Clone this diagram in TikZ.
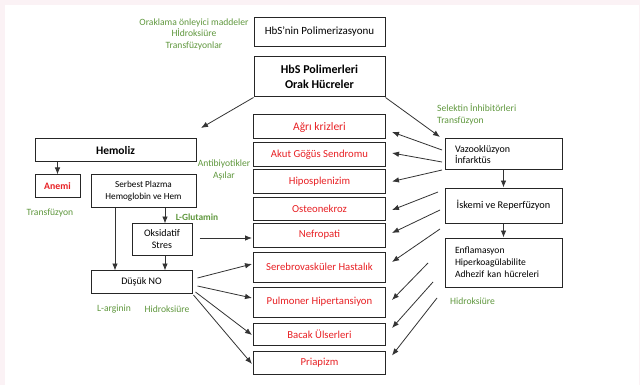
\documentclass[tikz,border=0pt]{standalone}
\usepackage{fontspec}
\setmainfont{Carlito}
\usetikzlibrary{arrows.meta}
\definecolor{sickred}{RGB}{232,32,36}
\definecolor{curegreen}{RGB}{96,152,62}
\definecolor{pinkband}{RGB}{251,242,245}

\begin{document}
\begin{tikzpicture}[x=1pt,y=-1pt,
  box/.style={draw=black!85,line width=1pt,rectangle,inner sep=0pt,align=center,font=\fontsize{10.7}{12}\selectfont},
  midbox/.style={box,minimum width=132pt,text=sickred},
  sidebox/.style={box,minimum width=117pt},
  therapy/.style={text=curegreen,inner sep=0pt,font=\fontsize{9.6}{12}\selectfont},
  arr/.style={draw=black!80,line width=0.8pt,-{Latex[length=7pt,width=5.5pt]}}]
  \useasboundingbox (0,0) rectangle (640,385);
  \fill[pinkband] (0,0) rectangle (640,385);
  \fill[white] (5,5) rectangle (639,385);
  % top of the chain
  \path (319.5,32) node[box,minimum width=131pt,minimum height=29pt,font=\fontsize{11}{12}\selectfont] (pol) {HbS’nin Polimerizasyonu}
  (319.5,77) node[box,minimum width=131pt,minimum height=40pt,font=\bfseries\fontsize{12}{15}\selectfont] (orak) {HbS Polimerleri\\Orak Hücreler};
  % middle column
  \path (319.5,127) node[midbox,minimum height=24pt,font=\fontsize{11.5}{12}\selectfont] (agri) {Ağrı krizleri}
  (319.5,155) node[midbox,minimum height=24pt] (akut) {Akut Göğüs Sendromu}
  (319.5,181.5) node[midbox,minimum height=23pt] (hipo) {Hiposplenizim}
  (319.5,208.5) node[midbox,minimum height=23pt] (osteo) {Osteonekroz}
  (319.5,235) node[midbox,minimum height=24pt] (nefro) {Nefropati}
  (319.5,267) node[midbox,minimum height=30pt] (sereb) {Serebrovasküler Hastalık}
  (319.5,302) node[midbox,minimum height=30pt] (pulm) {Pulmoner Hipertansiyon}
  (319.5,334) node[midbox,minimum height=22pt] (bacak) {Bacak Ülserleri}
  (319.5,362.5) node[midbox,minimum height=23pt] (priap) {Priapizm};
  % left side
  \path (115.5,150.5) node[box,minimum width=161pt,minimum height=23pt,font=\bfseries\fontsize{11.5}{12}\selectfont] (hemoliz) {Hemoliz}
  (57.5,186) node[box,minimum width=45pt,minimum height=22pt,text=sickred,font=\bfseries\fontsize{9.8}{11}\selectfont] (anemi) {Anemi}
  (143.5,191) node[box,minimum width=105pt,minimum height=32pt,font=\fontsize{9.2}{12}\selectfont] (plazma) {Serbest Plazma\\Hemoglobin ve Hem}
  (162,239) node[box,minimum width=60pt,minimum height=32pt,font=\fontsize{10}{12.5}\selectfont] (oksid) {Oksidatif\\Stres}
  (141.5,281.5) node[box,minimum width=101pt,minimum height=23pt,font=\fontsize{10}{12}\selectfont] (dusuk) {Düşük NO};
  % right side
  \path (503.5,154.5) node[sidebox,minimum height=31pt,text width=97pt,inner xsep=10pt,align=left,font=\fontsize{10}{11}\selectfont] (vazo) {Vazooklüzyon\\İnfarktüs}
  (503.5,205.5) node[sidebox,minimum height=35pt,font=\fontsize{10.3}{12}\selectfont] (iskemi) {İskemi ve Reperfüzyon}
  (503.5,262.5) node[sidebox,minimum height=49pt,text width=97pt,inner xsep=10pt,align=left,font=\fontsize{9.6}{12}\selectfont] (enfl) {Enflamasyon\\Hiperkoagülabilite\\Adhezif kan hücreleri};
  % treatments
  \path (194,34) node[therapy,align=center,font=\fontsize{9.6}{11.5}\selectfont] (orakcure) {Oraklama önleyici maddeler\\Hİdroksiüre\\Transfüzyonlar}
  (50,213) node[therapy] (anemicure) {Transfüzyon}
  (224,170) node[therapy,align=center] (infcure) {Antibiyotikler\\Aşılar}
  (197,217) node[therapy,font=\bfseries\fontsize{9.4}{11}\selectfont] (glut) {L-Glutamin}
  (114,309) node[therapy] (arg) {L-arginin}
  (167,309) node[therapy] (hu) {Hidroksiüre}
  (437,114) node[therapy,anchor=west,align=left] (selektin) {Selektin İnhibitörleri\\Transfüzyon}
  (450,301) node[therapy,anchor=west] (hu2) {Hidroksiüre};
  % free ends
  \coordinate (hemtip) at (201,128);
  \coordinate (vazotip) at (440,137);
  \coordinate (f1) at (442,150);
  \coordinate (f2) at (442,162);
  \coordinate (f3) at (442,170);
  \coordinate (f4) at (438,192);
  \coordinate (f5) at (440,210);
  \coordinate (f6) at (440,229);
  \coordinate (f7) at (428,263);
  \coordinate (f8) at (433,282);
  \coordinate (f9) at (437,298);
  % connectors
  \draw[arr] (orak.south west) -- (hemtip);
  \draw[arr] (orak.south east) -- (vazotip);
  \draw[arr] (hemoliz.south -| anemi.north) -- (anemi.north);
  \draw[arr] ([xshift=21.5]plazma.south) -- ++(0,16);
  \draw[arr] ([xshift=-28.5]plazma.south) -- ++(0,63);
  \draw[arr] ([xshift=3]oksid.south) -- ++(0,15);
  \draw[arr] ([shift={(7,-1)}]oksid.east) -- ([shift={(-1,-1)}]oksid.east -| nefro.west);
  \draw[arr] ([shift={(5,-3.5)}]dusuk.east) -- ([shift={(-1,-3)}]sereb.west);
  \draw[arr] ([shift={(5,4.5)}]dusuk.east) -- ([shift={(-1,-4)}]pulm.west);
  \draw[arr] ([shift={(3,10.5)}]dusuk.east) -- ([shift={(-1,1)}]bacak.west);
  \draw[arr] ([shift={(1,13.5)}]dusuk.east) -- ([shift={(-1,1.5)}]priap.west);
  \draw[arr] (f1) -- ([shift={(6,5)}]agri.east);
  \draw[arr] (f2) -- ([shift={(6,-2)}]akut.east);
  \draw[arr] (f3) -- ([shift={(6,0)}]hipo.east);
  \draw[arr] (f4) -- ([shift={(6,1.5)}]osteo.east);
  \draw[arr] (f5) -- ([shift={(6,-2)}]nefro.east);
  \draw[arr] (f6) -- ([shift={(6,-5)}]sereb.east);
  \draw[arr] (f7) -- ([shift={(6,-2)}]pulm.east);
  \draw[arr] (f8) -- ([shift={(6,-6)}]bacak.east);
  \draw[arr] (f9) -- ([shift={(6,-7)}]priap.east);
  \draw[arr] (vazo.south) -- (iskemi.north);
  \draw[arr] (iskemi.south) -- (enfl.north);
\end{tikzpicture}
\end{document}
